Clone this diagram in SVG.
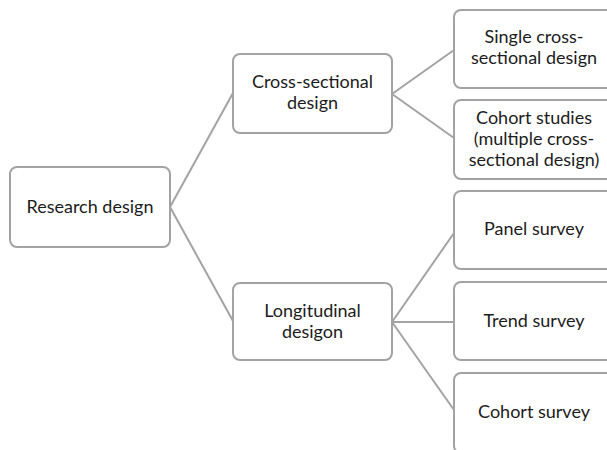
<svg xmlns="http://www.w3.org/2000/svg" width="607" height="450" viewBox="0 0 607 450">
  <style>
    .box { fill: #ffffff; stroke: #a3a3a3; stroke-width: 2; }
    .lbl { font-family: Lato, "Open Sans", "Liberation Sans", sans-serif; font-size: 18px; fill: #1c1c1c; text-anchor: middle; }
    .link { stroke: #a3a3a3; stroke-width: 2; fill: none; }
  </style>
  <rect width="607" height="450" fill="#ffffff"/>

  <!-- connectors -->
  <g id="connectors">
    <line class="link" x1="170" y1="207" x2="233" y2="93"/>
    <line class="link" x1="170" y1="207" x2="233" y2="321"/>
    <line class="link" x1="392" y1="94" x2="454" y2="50"/>
    <line class="link" x1="392" y1="94" x2="454" y2="138"/>
    <line class="link" x1="392" y1="322" x2="454" y2="233"/>
    <line class="link" x1="392" y1="322" x2="454" y2="322"/>
    <line class="link" x1="392" y1="322" x2="454" y2="410"/>
  </g>

  <!-- root -->
  <g id="research-design">
    <rect class="box" x="10" y="167" width="160" height="80" rx="7"/>
    <text class="lbl" x="90" y="213">Research design</text>
  </g>

  <!-- second level -->
  <g id="cross-sectional">
    <rect class="box" x="233" y="54" width="159" height="79" rx="7"/>
    <text class="lbl" x="312.5" y="88">Cross-sectional</text>
    <text class="lbl" x="312.5" y="109">design</text>
  </g>
  <g id="longitudinal">
    <rect class="box" x="233" y="283" width="159" height="77" rx="7"/>
    <text class="lbl" x="312.5" y="317">Longitudinal</text>
    <text class="lbl" x="312.5" y="338">desigon</text>
  </g>

  <!-- leaves -->
  <g id="single-cross-sectional">
    <rect class="box" x="454" y="10" width="160" height="78" rx="7"/>
    <text class="lbl" x="534" y="43">Single cross-</text>
    <text class="lbl" x="534" y="64">sectional design</text>
  </g>
  <g id="cohort-studies">
    <rect class="box" x="454" y="100" width="160" height="79" rx="7"/>
    <text class="lbl" x="534" y="124">Cohort studies</text>
    <text class="lbl" x="534" y="145">(multiple cross-</text>
    <text class="lbl" x="534" y="166">sectional design)</text>
  </g>
  <g id="panel-survey">
    <rect class="box" x="454" y="191" width="160" height="78" rx="7"/>
    <text class="lbl" x="534" y="235">Panel survey</text>
  </g>
  <g id="trend-survey">
    <rect class="box" x="454" y="282" width="160" height="78" rx="7"/>
    <text class="lbl" x="534" y="327">Trend survey</text>
  </g>
  <g id="cohort-survey">
    <rect class="box" x="454" y="373" width="160" height="80" rx="7"/>
    <text class="lbl" x="534" y="418">Cohort survey</text>
  </g>
</svg>
